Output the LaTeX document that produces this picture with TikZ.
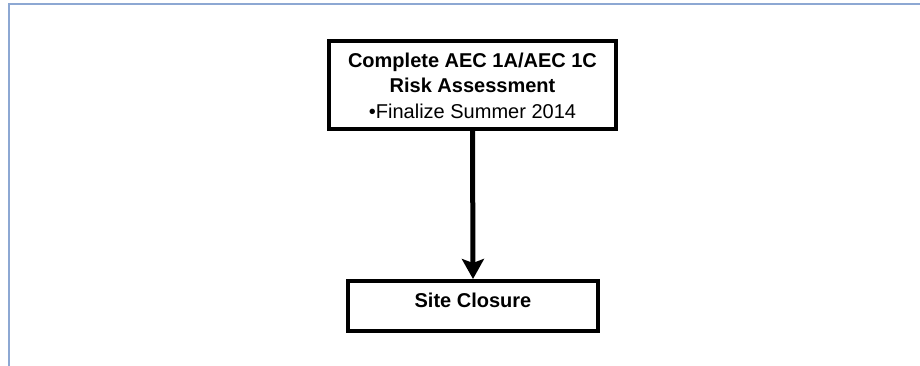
\documentclass[tikz,border=0pt]{standalone}
\usepackage{fontspec}
\setmainfont{Liberation Sans}
\usetikzlibrary{arrows.meta}
\definecolor{framecol}{RGB}{141,168,211}
\tikzset{
  flowbox/.style={draw=black, line width=4pt, rectangle, inner sep=0pt},
  flowtext/.style={font=\fontsize{20}{25.5}\selectfont, align=center, inner sep=0pt},
  flowarrow/.style={draw=black, line width=5pt,
    -{Stealth[length=20pt, width=22pt, inset=4pt]}}
}
\begin{document}
\begin{tikzpicture}[x=1pt, y=-1pt]
  \useasboundingbox (0,0) rectangle (920,366);
  % page frame along the top and left edges
  \draw[framecol, line width=1.6pt] (8.8,366) -- (8.8,3.8) -- (920,3.8);

  % boxes
  \node[flowbox, minimum width=287pt, minimum height=88pt] (assess) at (472.5,85) {};
  \node[flowbox, minimum width=250pt, minimum height=50pt] (closure) at (473,306) {};

  % box texts (base anchor sits on the last line)
  \node[flowtext, anchor=base] (assesstext) at (472.5,118.3)
    {\textbf{Complete AEC 1A/AEC 1C}\\\textbf{Risk Assessment}\\\textbullet Finalize Summer 2014};
  \node[flowtext, anchor=base] (closuretext) at (473,307.7) {\textbf{Site Closure}};

  % connector
  \draw[flowarrow] (assess.south) -- (closure.north);
\end{tikzpicture}
\end{document}
